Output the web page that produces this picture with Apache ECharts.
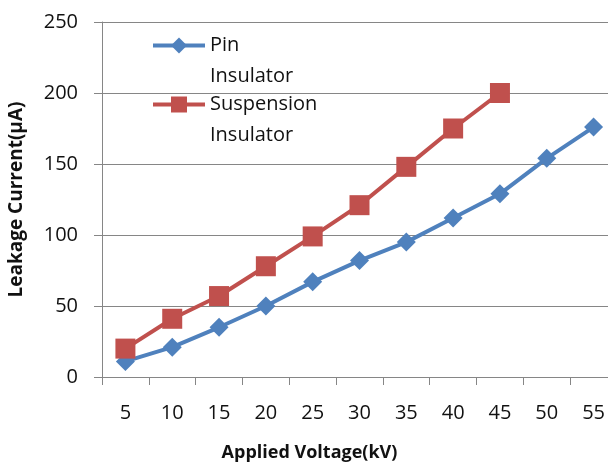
<!DOCTYPE html>
<html><head><meta charset="utf-8">
<script src="https://cdn.jsdelivr.net/npm/echarts@6/dist/echarts.min.js"></script>
<style>html,body{margin:0;padding:0;background:#fff}#c{width:608px;height:463px}</style>
</head><body><div id="c"></div>
<script>
const categories = ['5','10','15','20','25','30','35','40','45','50','55'];
const pinValues = [11, 21, 35, 50, 67, 82, 95, 112, 129, 154, 176];
const suspensionValues = [20, 41, 57, 78, 99, 121, 148, 175, 200];
const yTicks = {min: 0, max: 250, interval: 50};
const seriesNames = ['Pin\nInsulator', 'Suspension\nInsulator'];

const font = '"Open Sans", "Noto Sans", sans-serif';
const chart = echarts.init(document.getElementById('c'));
chart.setOption({
  animation: false,
  backgroundColor: '#fff',
  grid: {left: 102, top: 22, bottom: 86, right: -9, containLabel: false, outerBoundsMode: 'none'},
  legend: {
    orient: 'vertical', left: 146, top: -6,
    itemWidth: 52, itemHeight: 20, itemGap: -34,
    lineStyle: {width: 4},
    formatter: function (name) { return '\u00a0\n' + name; },
    textStyle: {fontFamily: font, fontSize: 20, color: '#111', lineHeight: 31},
    data: seriesNames
  },
  xAxis: {
    type: 'category', data: categories, boundaryGap: true,
    axisLine: {lineStyle: {color: '#868686', width: 1}},
    axisTick: {show: true, length: 8, lineStyle: {color: '#868686'}},
    axisLabel: {fontFamily: font, fontSize: 20, color: '#111', margin: 26},
    name: 'Applied Voltage(kV)', nameLocation: 'middle', nameGap: 67,
    nameTextStyle: {fontFamily: font, fontSize: 18, fontWeight: 'bold', color: '#111', padding: [0, 100, 0, 0]}
  },
  yAxis: {
    type: 'value', min: yTicks.min, max: yTicks.max, interval: yTicks.interval,
    axisLine: {show: true, lineStyle: {color: '#868686', width: 1}},
    axisTick: {show: true, length: 8, lineStyle: {color: '#868686'}},
    splitLine: {show: true, lineStyle: {color: '#868686', width: 1}},
    axisLabel: {fontFamily: font, fontSize: 20, color: '#111', margin: 24},
    name: 'Leakage Current(µA)', nameLocation: 'middle', nameGap: 76,
    nameTextStyle: {fontFamily: font, fontSize: 19, fontWeight: 'bold', color: '#111'}
  },
  series: [
    {name: seriesNames[0], type: 'line', data: pinValues, symbol: 'diamond', symbolSize: 19,
     lineStyle: {color: '#4F81BD', width: 4}, itemStyle: {color: '#4F81BD'}},
    {name: seriesNames[1], type: 'line', data: suspensionValues, symbol: 'rect', symbolSize: 20,
     lineStyle: {color: '#C0504D', width: 4}, itemStyle: {color: '#C0504D'}}
  ]
});
</script></body></html>
